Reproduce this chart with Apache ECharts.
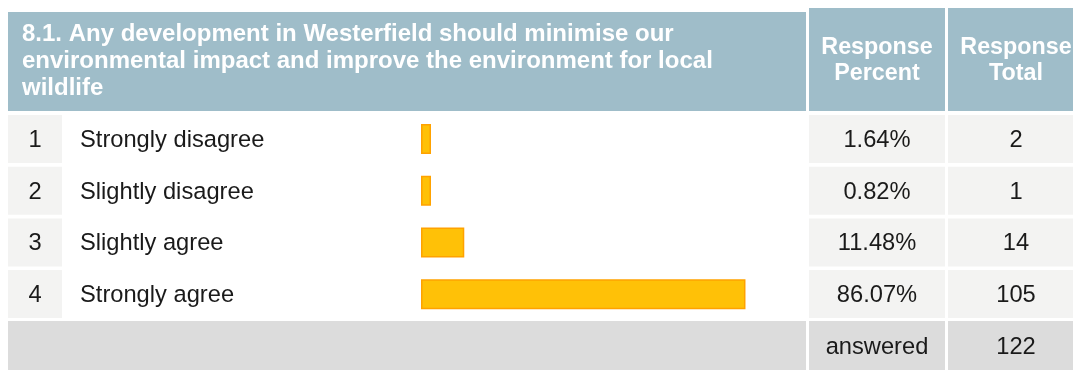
<!DOCTYPE html>
<html>
<head>
<meta charset="utf-8">
<script src="https://cdn.jsdelivr.net/npm/echarts@6/dist/echarts.min.js"></script>
<style>
html,body{margin:0;padding:0;background:#fff;}
#chart{width:1073px;height:370px;}
</style>
</head>
<body>
<div id="chart"></div>
<script>
var titleLines = ['8.1. Any development in Westerfield should minimise our', 'environmental impact and improve the environment for local', 'wildlife'];
var headerPercent = ['Response', 'Percent'];
var headerTotal = ['Response', 'Total'];
var rowNumbers = ['1', '2', '3', '4'];
var categories = ['Strongly disagree', 'Slightly disagree', 'Slightly agree', 'Strongly agree'];
var percentValues = [1.64, 0.82, 11.48, 86.07];
var percentLabels = ['1.64%', '0.82%', '11.48%', '86.07%'];
var totals = ['2', '1', '14', '105'];
var answeredLabel = 'answered';
var answeredTotal = '122';

var FONT = '"Liberation Sans", Arial, sans-serif';
var HEADER = '#9FBDC9';
var CELL = '#F3F3F2';
var ANSWERED = '#DCDCDC';
var TEXT = '#1a1a1a';

var rowTop = 115, rowPitch = 51.7, rowH = 48;
var g = [];
function rect(x, y, w, h, c) { g.push({type: 'rect', shape: {x: x, y: y, width: w, height: h}, style: {fill: c}, silent: true}); }
function text(x, y, t, opt) {
  opt = opt || {};
  g.push({type: 'text', x: x, y: y, silent: true, style: {text: t, fill: opt.fill || TEXT, font: (opt.bold ? 'bold ' : '') + (opt.size || 23.7) + 'px ' + FONT, textAlign: opt.align || 'left', textVerticalAlign: 'middle'}});
}
// header
rect(8, 12, 798, 99, HEADER);
rect(809, 8, 136, 103, HEADER);
rect(948, 8, 130, 103, HEADER);
titleLines.forEach(function (t, i) { text(22, 34 + i * 27, t, {fill: '#fff', bold: true, size: 24}); });
headerPercent.forEach(function (t, i) { text(877, 47.5 + i * 26, t, {fill: '#fff', bold: true, size: 23.3, align: 'center'}); });
headerTotal.forEach(function (t, i) { text(1016, 47.5 + i * 26, t, {fill: '#fff', bold: true, size: 23.3, align: 'center'}); });
// rows
categories.forEach(function (c, i) {
  var y = rowTop + i * rowPitch;
  var cy = y + rowH / 2 + 1.5;
  rect(8, y, 54, rowH, CELL);
  rect(809, y, 136, rowH, CELL);
  rect(948, y, 130, rowH, CELL);
  text(35, cy, rowNumbers[i], {align: 'center'});
  text(80, cy, c);
  text(877, cy, percentLabels[i], {align: 'center'});
  text(1016, cy, totals[i], {align: 'center'});
});
// answered
var ay = 321;
rect(8, ay, 798, 49, ANSWERED);
rect(809, ay, 136, 49, ANSWERED);
rect(948, ay, 130, 49, ANSWERED);
text(877, ay + 26.5, answeredLabel, {align: 'center'});
text(1016, ay + 26.5, answeredTotal, {align: 'center'});

var chart = echarts.init(document.getElementById('chart'), null, {renderer: 'canvas'});
chart.setOption({
  animation: false,
  graphic: g,
  grid: {left: 421, width: 377, top: 113.2, height: 206.8},
  xAxis: {type: 'value', min: 0, max: 100, show: false},
  yAxis: {type: 'category', data: categories, inverse: true, show: false},
  series: [{
    type: 'bar',
    data: percentValues,
    barWidth: 30,
    barMinHeight: 10,
    itemStyle: {color: '#FFC107', borderColor: '#FFA200', borderWidth: 1.5},
    silent: true
  }]
});
</script>
</body>
</html>
